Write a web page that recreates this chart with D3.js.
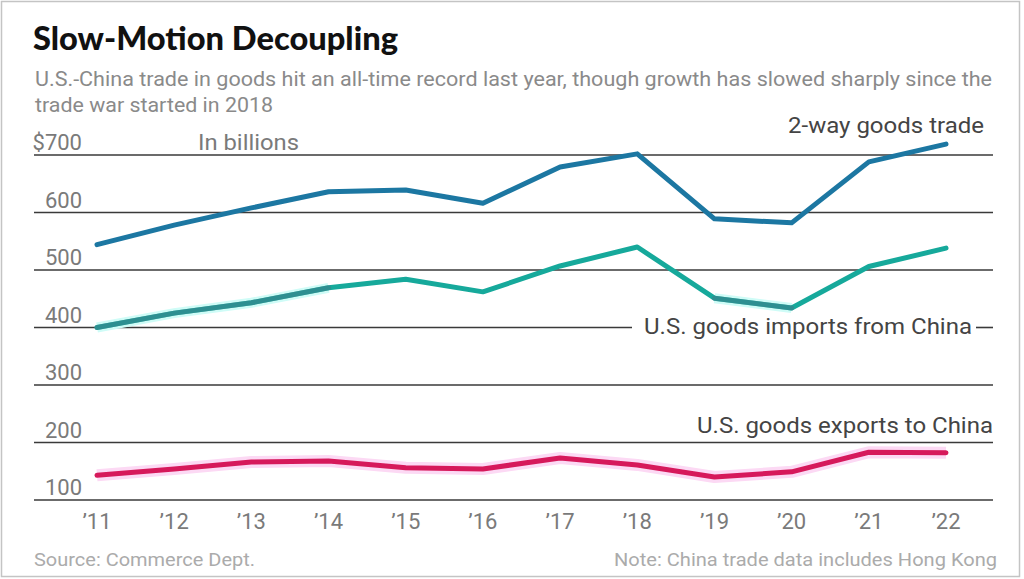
<!DOCTYPE html>
<html><head><meta charset="utf-8">
<script src="https://cdn.jsdelivr.net/npm/d3@7"></script>
<style>body{margin:0;background:#fff}svg{display:block}</style>
</head><body><svg id="c" width="1024" height="579"></svg>
<script>
const years = [2011,2012,2013,2014,2015,2016,2017,2018,2019,2020,2021,2022];
const yearLabels = ["’11","’12","’13","’14","’15","’16","’17","’18","’19","’20","’21","’22"];
const twoWay  = [544,578,608,636,639,616,679,702,589,582,688,719];
const imports = [400,425,443,469,484,462,507,540,451,434,506,538];
const exports_ = [143,154,166,168,156,154,173,161,140,149,183,182];
const yTicks = [100,200,300,400,500,600,700];
const yTickLabels = ["100","200","300","400","500","600","$700"];

const svg = d3.select("#c");
const x = d3.scaleLinear().domain([2011,2022]).range([97,946]);
const y = d3.scaleLinear().domain([100,700]).range([500,155]);
const L = 34, R = 993;

function txt(g, s, xx, yy, size, fill, opts={}) {
  const t = g.append("text").attr("x",xx).attr("y",yy).text(s)
    .style("font-family",opts.fam||"Roboto").style("font-size",size+"px").attr("fill",fill);
  if (opts.anchor) t.attr("text-anchor",opts.anchor);
  if (opts.weight) t.style("font-weight",opts.weight);
  if (opts.len) t.attr("textLength",opts.len).attr("lengthAdjust","spacingAndGlyphs");
  return t;
}

svg.append("rect").attr("x",1.5).attr("y",1.5).attr("width",1018).attr("height",575)
  .attr("fill","#fff").attr("stroke","#c4c4c4").attr("stroke-width",1.5);

txt(svg,"Slow-Motion Decoupling",33,50,33,"#111",{fam:"Lato",weight:900,len:365});
const sub = ["U.S.-China trade in goods hit an all-time record last year, though growth has slowed sharply since the","trade war started in 2018"];
txt(svg,sub[0],35,86,21,"#8a8a8a",{len:957});
txt(svg,sub[1],35,112,21,"#8a8a8a",{len:238});

// grid
svg.append("g").selectAll("line").data(yTicks.filter(d=>d!==400)).join("line")
  .attr("x1",L).attr("x2",R).attr("y1",d=>y(d)).attr("y2",d=>y(d))
  .attr("stroke","#3a3a3a").attr("stroke-width",1.6);
// 400 gridline interrupted by label
svg.append("g").selectAll("line").data([[L,632],[976,R]]).join("line")
  .attr("x1",d=>d[0]).attr("x2",d=>d[1]).attr("y1",y(400)).attr("y2",y(400))
  .attr("stroke","#3a3a3a").attr("stroke-width",1.6);

yTicks.forEach((d,i)=>txt(svg,yTickLabels[i],82,y(d)-5,22,"#7a7a7a",{anchor:"end"}));
txt(svg,"In billions",198,150,22,"#7a7a7a",{len:101});

// x labels
years.forEach((d,i)=>txt(svg,yearLabels[i],x(d),529,22,"#7a7a7a",{anchor:"middle"}));

const line = d3.line().x((d,i)=>x(years[i])).y(d=>y(d));
const lineSub = (arr, a, b) => d3.line().x(d=>x(years[d])).y(d=>y(arr[d]))(d3.range(a,b+1));

// halos
svg.append("path").attr("d",line(exports_)).attr("fill","none")
  .attr("stroke","#fcd9f4").attr("stroke-width",12).attr("stroke-linejoin","round");
[[0,3],[8,9]].forEach(([a,b])=>svg.append("path").attr("d",lineSub(imports,a,b)).attr("fill","none")
  .attr("stroke","#cffcf7").attr("stroke-width",10));

const series = [[twoWay,"#1c77a2"],[imports,"#16a99b"],[exports_,"#d6195b"]];
series.forEach(([d,c])=>svg.append("path").attr("d",line(d)).attr("fill","none")
  .attr("stroke",c).attr("stroke-width",5).attr("stroke-linejoin","round").attr("stroke-linecap","round"));

// darker overlays
[[0,3],[8,9]].forEach(([a,b])=>svg.append("path").attr("d",lineSub(imports,a,b)).attr("fill","none")
  .attr("stroke","#3f7f8a").attr("stroke-width",5).attr("stroke-linecap","round").attr("opacity",0.6));

// series labels
txt(svg,"2-way goods trade",984,133,22,"#444",{anchor:"end",len:196});
txt(svg,"U.S. goods imports from China",972,334,22,"#444",{anchor:"end",len:328});
txt(svg,"U.S. goods exports to China",993,433,22,"#444",{anchor:"end",len:296});

// footer
txt(svg,"Source: Commerce Dept.",34,566,19,"#ababab",{len:221});
txt(svg,"Note: China trade data includes Hong Kong",997,566,19,"#ababab",{anchor:"end",len:383});
</script></body></html>
